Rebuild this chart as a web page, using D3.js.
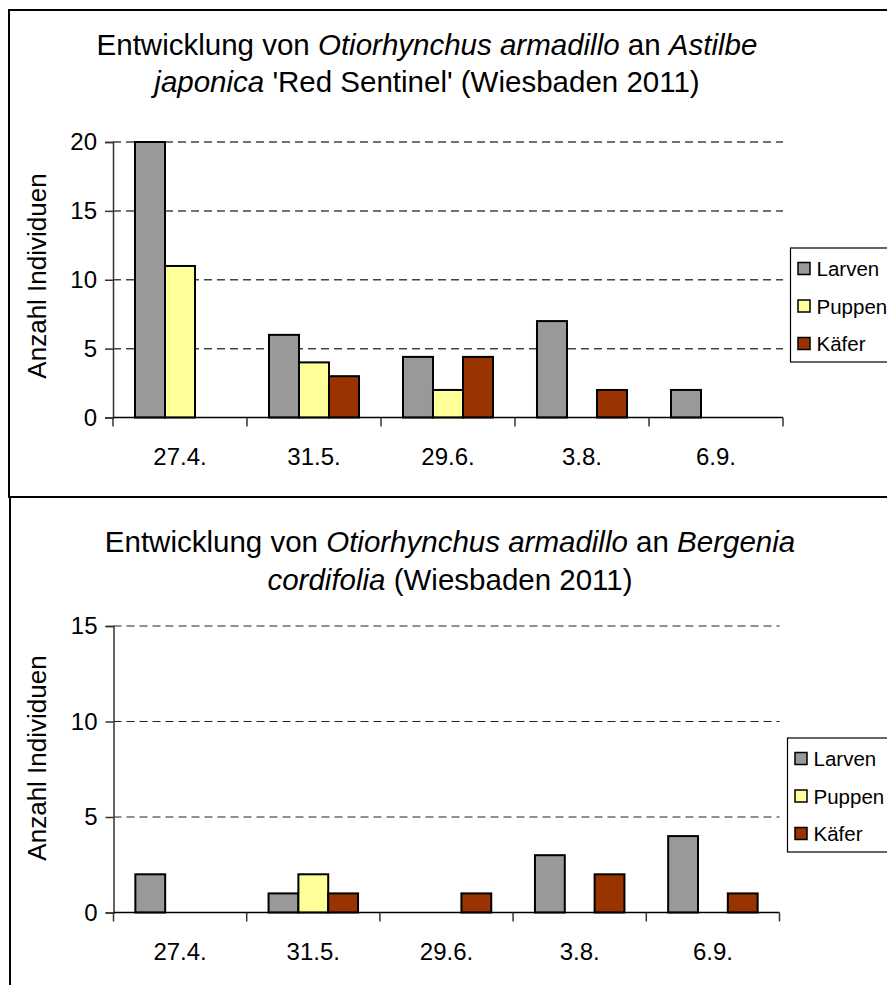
<!DOCTYPE html>
<html>
<head>
<meta charset="utf-8">
<script src="https://cdn.jsdelivr.net/npm/d3@7/dist/d3.min.js"></script>
<style>
  html, body { margin: 0; padding: 0; background: #fff; }
  svg { display: block; font-family: "Liberation Sans", Arial, sans-serif; }
</style>
</head>
<body>
<svg id="chart" width="887" height="985"></svg>
<script>
// Sampling dates and life stages
const dates = ["27.4.", "31.5.", "29.6.", "3.8.", "6.9."];
const stages = ["Larven", "Puppen", "Käfer"];
const stageColors = ["#999999", "#FFFF99", "#993300"];

// Astilbe japonica 'Red Sentinel'
const astilbeLarven = [20, 6, 4.4, 7, 2];
const astilbePuppen = [11, 4, 2, 0, 0];
const astilbeKaefer = [0, 3, 4.4, 2, 0];
const astilbeTicks = [0, 5, 10, 15, 20];

// Bergenia cordifolia
const bergeniaLarven = [2, 1, 0, 3, 4];
const bergeniaPuppen = [0, 2, 0, 0, 0];
const bergeniaKaefer = [0, 1, 1, 2, 1];
const bergeniaTicks = [0, 5, 10, 15];

const yTitle = "Anzahl Individuen";

const svg = d3.select("#chart");

function drawChart(cfg) {
  const g = svg.append("g");

  // chart frame
  g.append("rect")
    .attr("x", cfg.frame[0]).attr("y", cfg.frame[1])
    .attr("width", cfg.frame[2]).attr("height", cfg.frame[3])
    .attr("fill", "none").attr("stroke", "#000").attr("stroke-width", 2);

  // title (two lines, species names in italics)
  cfg.title.forEach((line, i) => {
    const t = g.append("text")
      .attr("x", cfg.titleX)
      .attr("y", cfg.titleY + i * cfg.titleGap)
      .attr("text-anchor", "middle")
      .attr("font-size", 29.5)
      .attr("fill", "#000");
    line.forEach(part => {
      t.append("tspan")
        .attr("font-style", part[1] ? "italic" : "normal")
        .text(part[0]);
    });
  });

  const x = d3.scaleBand().domain(dates).range([cfg.left, cfg.right]).padding(0);
  const xs = d3.scaleBand().domain(stages).range([0, x.bandwidth()])
    .paddingInner(0).paddingOuter(0.733);
  const y = d3.scaleLinear().domain([0, cfg.max]).range([cfg.bottom, cfg.top]);

  // dashed gridlines
  g.append("g").selectAll("line")
    .data(cfg.ticks.filter(d => d > 0))
    .join("line")
    .attr("x1", cfg.left).attr("x2", cfg.right)
    .attr("y1", d => y(d)).attr("y2", d => y(d))
    .attr("stroke", cfg.gridColor)
    .attr("stroke-width", cfg.gridWidth)
    .attr("stroke-dasharray", "8,5");

  // bars
  const rows = dates.map((d, i) => ({ date: d, values: cfg.values.map(v => v[i]) }));
  g.append("g").selectAll("g")
    .data(rows)
    .join("g")
    .attr("transform", d => `translate(${x(d.date)},0)`)
    .selectAll("rect")
    .data(d => d.values.map((v, k) => ({ stage: stages[k], k, v })).filter(e => e.v > 0))
    .join("rect")
    .attr("x", d => xs(d.stage))
    .attr("width", xs.bandwidth())
    .attr("y", d => y(d.v))
    .attr("height", d => y(0) - y(d.v))
    .attr("fill", d => stageColors[d.k])
    .attr("stroke", "#000")
    .attr("stroke-width", 2);

  // y axis
  const yAxis = g.append("g")
    .attr("transform", `translate(${cfg.left},0)`)
    .call(d3.axisLeft(y).tickValues(cfg.ticks).tickSize(8).tickPadding(8));
  yAxis.select(".domain").attr("stroke", "#333").attr("stroke-width", 1.5);
  yAxis.selectAll(".tick line").attr("stroke", "#333").attr("stroke-width", 1.5);
  yAxis.selectAll(".tick text")
    .attr("font-size", 24).attr("font-family", "Liberation Sans, Arial, sans-serif")
    .attr("fill", "#000");

  // x axis with ticks between categories
  const bounds = dates.map(d => x(d)).concat([cfg.right]);
  const xAxisG = g.append("g").attr("transform", `translate(0,${cfg.bottom})`);
  xAxisG.append("line")
    .attr("x1", cfg.left).attr("x2", cfg.right)
    .attr("stroke", "#000").attr("stroke-width", 1.5);
  xAxisG.selectAll(".xt").data(bounds).join("line")
    .attr("class", "xt")
    .attr("x1", d => d).attr("x2", d => d)
    .attr("y1", 0).attr("y2", 9)
    .attr("stroke", "#333").attr("stroke-width", 1.5);
  xAxisG.selectAll(".xl").data(dates).join("text")
    .attr("class", "xl")
    .attr("x", d => x(d) + x.bandwidth() / 2)
    .attr("y", 47)
    .attr("text-anchor", "middle")
    .attr("font-size", 24)
    .text(d => d);

  // y axis title
  g.append("text")
    .attr("transform", `translate(${cfg.yTitleX},${cfg.yTitleY}) rotate(-90)`)
    .attr("text-anchor", "middle")
    .attr("font-size", 26)
    .text(yTitle);

  // legend
  const lg = g.append("g").attr("transform", `translate(${cfg.legend[0]},${cfg.legend[1]})`);
  lg.append("rect")
    .attr("x", 0).attr("y", 0).attr("width", 140).attr("height", 114)
    .attr("fill", "#fff").attr("stroke", "#000").attr("stroke-width", 1.2);
  const items = lg.selectAll(".item").data(stages).join("g")
    .attr("class", "item")
    .attr("transform", (d, i) => `translate(0,${20.5 + i * 37.5})`);
  items.append("rect")
    .attr("x", 7.5).attr("y", -6).attr("width", 12).attr("height", 12)
    .attr("fill", (d, i) => stageColors[i])
    .attr("stroke", "#000").attr("stroke-width", 1.5);
  items.append("text")
    .attr("x", 26).attr("y", 7.5)
    .attr("font-size", 20.5)
    .text(d => d);
}

drawChart({
  frame: [9, 10, 900, 487],
  title: [
    [["Entwicklung von ", false], ["Otiorhynchus armadillo", true], [" an ", false], ["Astilbe", true]],
    [["japonica", true], [" 'Red Sentinel' (Wiesbaden 2011)", false]]
  ],
  titleX: 427, titleY: 55, titleGap: 37,
  left: 113, right: 783, top: 142, bottom: 417.5, max: 20,
  ticks: astilbeTicks,
  values: [astilbeLarven, astilbePuppen, astilbeKaefer],
  gridColor: "#444", gridWidth: 1.5,
  yTitleX: 46, yTitleY: 276,
  legend: [790.5, 248]
});

drawChart({
  frame: [10, 497, 900, 520],
  title: [
    [["Entwicklung von ", false], ["Otiorhynchus armadillo", true], [" an ", false], ["Bergenia", true]],
    [["cordifolia", true], [" (Wiesbaden 2011)", false]]
  ],
  titleX: 450, titleY: 552, titleGap: 38,
  left: 113.5, right: 779.5, top: 626, bottom: 912.5, max: 15,
  ticks: bergeniaTicks,
  values: [bergeniaLarven, bergeniaPuppen, bergeniaKaefer],
  gridColor: "#222", gridWidth: 1,
  yTitleX: 46, yTitleY: 758,
  legend: [787.5, 738]
});
</script>
</body>
</html>
